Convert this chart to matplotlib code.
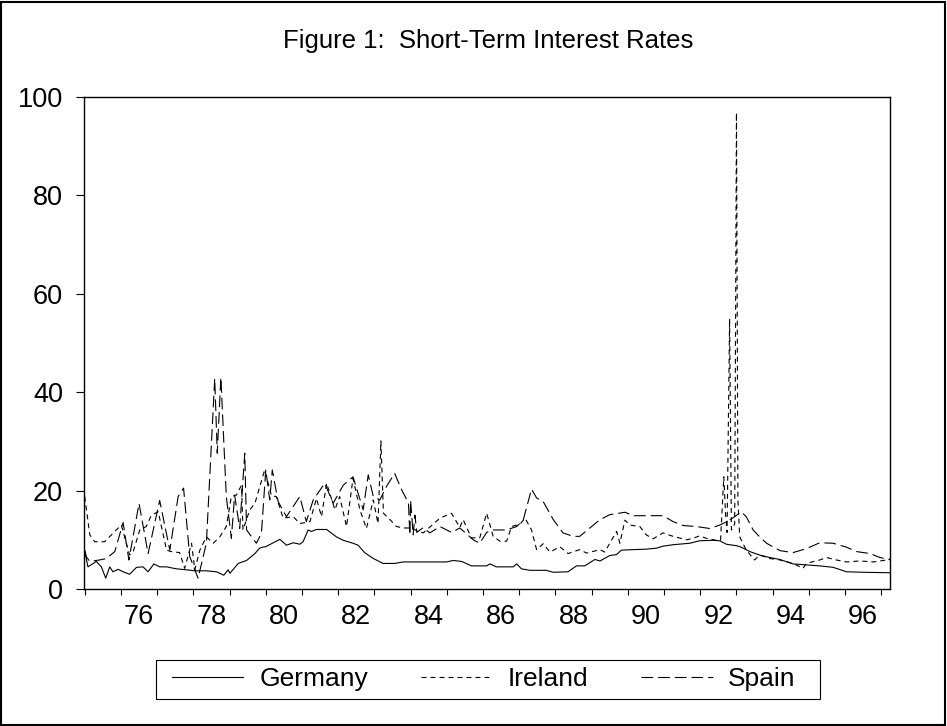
import matplotlib
matplotlib.use("Agg")
import matplotlib.pyplot as plt
from matplotlib.patches import Rectangle

plt.rcParams['font.family'] = ['Liberation Sans', 'DejaVu Sans']

# decimal years and rates
germany_t = [1975.00, 1975.09, 1975.32, 1975.46, 1975.58, 1975.69, 1975.78, 1975.92, 1976.06, 1976.24,
             1976.43, 1976.61, 1976.75, 1976.91, 1977.07, 1977.26, 1977.53, 1977.81, 1978.04, 1978.36,
             1978.64, 1978.84, 1978.96, 1979.01, 1979.24, 1979.47, 1979.70, 1979.83, 1979.91, 1980.00,
             1980.39, 1980.57, 1980.76, 1980.94, 1981.03, 1981.17, 1981.26, 1981.40, 1981.68, 1981.95,
             1982.14, 1982.41, 1982.55, 1982.73, 1982.97, 1983.24, 1983.56, 1983.80, 1984.99, 1985.18,
             1985.41, 1985.68, 1986.10, 1986.19, 1986.37, 1986.83, 1986.93, 1987.06, 1987.29, 1987.75,
             1987.94, 1988.35, 1988.58, 1988.81, 1989.09, 1989.23, 1989.50, 1989.69, 1989.82, 1990.15,
             1990.51, 1990.79, 1990.97, 1991.25, 1991.71, 1991.98, 1992.35, 1992.54, 1992.72, 1993.00,
             1993.13, 1993.37, 1993.64, 1993.92, 1994.20, 1994.56, 1994.93, 1995.30, 1995.67, 1996.04,
             1996.50, 1997.27]
germany = [7.6, 4.5, 5.6, 4.5, 2.2, 4.5, 3.5, 4.0, 3.5, 3.0,
           4.4, 4.5, 3.5, 5.1, 4.5, 4.5, 4.1, 3.9, 3.7, 3.7,
           3.5, 2.8, 3.9, 3.2, 5.2, 5.8, 7.2, 8.3, 8.5, 8.6,
           10.1, 8.9, 9.4, 9.1, 9.6, 12.0, 11.7, 12.1, 12.1, 10.6,
           9.9, 9.3, 8.9, 7.4, 6.2, 5.2, 5.2, 5.5, 5.5, 5.8,
           5.6, 4.7, 4.7, 5.1, 4.5, 4.5, 5.1, 4.1, 3.8, 3.8,
           3.4, 3.5, 4.7, 4.7, 6.0, 5.7, 6.8, 7.0, 7.9, 8.0,
           8.1, 8.3, 8.7, 9.0, 9.3, 9.8, 9.9, 9.8, 9.1, 8.8,
           8.5, 7.6, 6.9, 6.4, 6.0, 5.1, 4.9, 4.7, 4.4, 3.5,
           3.4, 3.3]

ireland_t = [1975.00, 1975.14, 1975.28, 1975.55, 1975.83, 1976.01, 1976.24, 1976.34, 1976.52, 1976.70,
             1976.84, 1977.03, 1977.26, 1977.39, 1977.62, 1977.76, 1977.95, 1978.04, 1978.18, 1978.36,
             1978.55, 1978.73, 1978.91, 1979.05, 1979.19, 1979.33, 1979.37, 1979.56, 1979.70, 1979.97,
             1980.16, 1980.29, 1980.48, 1980.76, 1980.94, 1981.22, 1981.40, 1981.54, 1981.68, 1981.91,
             1982.04, 1982.23, 1982.41, 1982.60, 1982.78, 1982.97, 1983.10, 1983.18, 1983.25, 1983.43,
             1983.61, 1983.80, 1983.98, 1984.35, 1984.81, 1985.13, 1985.36, 1985.45, 1985.68, 1985.91,
             1986.10, 1986.28, 1986.47, 1986.65, 1986.79, 1987.02, 1987.16, 1987.34, 1987.48, 1987.66,
             1987.85, 1988.12, 1988.35, 1988.67, 1988.86, 1989.23, 1989.36, 1989.50, 1989.69, 1989.78,
             1989.92, 1990.05, 1990.33, 1990.51, 1990.70, 1990.97, 1991.25, 1991.62, 1991.80, 1991.98,
             1992.17, 1992.44, 1992.56, 1992.65, 1992.70, 1992.74, 1992.81, 1992.86, 1992.90, 1992.95,
             1993.00, 1993.04, 1993.09, 1993.27, 1993.50, 1993.64, 1993.92, 1994.20, 1994.56, 1994.84,
             1994.93, 1995.30, 1995.49, 1995.76, 1996.04, 1996.41, 1996.78, 1997.15, 1997.27]
ireland = [18.8, 11.0, 9.6, 9.6, 11.7, 13.0, 6.9, 7.6, 12.0, 12.7,
           15.0, 15.7, 7.9, 7.6, 7.4, 4.2, 9.3, 3.9, 7.9, 10.6,
           9.3, 10.6, 12.7, 18.8, 19.1, 21.1, 12.0, 16.1, 17.4, 24.2,
           18.9, 18.8, 14.4, 14.7, 13.3, 13.7, 18.4, 14.7, 21.5, 16.1,
           18.8, 12.7, 22.5, 16.1, 12.3, 18.1, 13.3, 30.1, 15.4, 14.1,
           12.7, 12.4, 12.4, 11.4, 14.4, 15.4, 12.5, 14.1, 10.4, 10.4,
           15.4, 10.7, 9.7, 9.7, 12.7, 13.2, 14.4, 12.0, 8.0, 9.2,
           7.5, 8.6, 7.2, 8.0, 7.3, 8.0, 7.5, 9.3, 11.7, 9.3,
           14.0, 13.0, 12.7, 11.0, 10.2, 11.4, 10.7, 10.0, 10.3, 10.8,
           10.3, 9.9, 9.9, 22.8, 15.0, 11.5, 54.9, 12.0, 12.3, 13.3,
           96.8, 18.0, 10.6, 7.9, 5.9, 6.9, 6.2, 5.9, 5.2, 4.2,
           5.2, 5.9, 6.4, 5.9, 5.5, 5.7, 5.5, 5.9, 6.2]

spain_t = [1975.00, 1975.05, 1975.14, 1975.41, 1975.60, 1975.83, 1976.06, 1976.22, 1976.50, 1976.75,
           1977.07, 1977.35, 1977.58, 1977.73, 1977.90, 1978.13, 1978.36, 1978.59, 1978.66, 1978.76,
           1978.91, 1979.05, 1979.14, 1979.28, 1979.42, 1979.47, 1979.74, 1979.88, 1980.00, 1980.11,
           1980.18, 1980.34, 1980.57, 1980.94, 1981.12, 1981.31, 1981.63, 1981.86, 1982.14, 1982.41,
           1982.69, 1982.83, 1982.97, 1983.15, 1983.33, 1983.56, 1983.75, 1983.94, 1983.98, 1984.00,
           1984.07, 1984.12, 1984.17, 1984.35, 1984.53, 1984.81, 1985.13, 1985.36, 1985.73, 1985.91,
           1986.10, 1986.28, 1986.65, 1986.93, 1987.11, 1987.34, 1987.48, 1987.66, 1987.94, 1988.21,
           1988.49, 1988.67, 1988.95, 1989.23, 1989.50, 1989.92, 1990.15, 1990.51, 1990.97, 1991.25,
           1991.53, 1991.89, 1992.26, 1992.54, 1992.81, 1992.95, 1993.13, 1993.27, 1993.46, 1993.64,
           1993.83, 1994.20, 1994.56, 1994.93, 1995.30, 1995.67, 1996.04, 1996.32, 1996.69, 1996.96,
           1997.27]
spain = [7.9, 6.5, 5.6, 5.9, 6.2, 7.6, 13.5, 5.9, 17.4, 7.2,
         18.0, 7.9, 18.8, 20.5, 6.6, 2.2, 9.3, 42.8, 27.6, 43.0,
         18.8, 10.3, 19.1, 12.3, 27.6, 12.0, 9.3, 11.3, 24.2, 18.1,
         24.2, 17.8, 14.7, 18.8, 13.7, 18.1, 21.5, 17.4, 21.1, 22.8,
         16.1, 23.2, 18.8, 18.1, 20.8, 23.5, 20.2, 17.5, 11.0, 18.0,
         11.0, 15.0, 11.5, 12.5, 11.4, 12.7, 11.5, 12.4, 10.0, 9.3,
         11.5, 12.0, 12.0, 12.7, 14.0, 20.3, 18.5, 17.8, 14.1, 11.4,
         10.7, 10.7, 12.4, 14.1, 15.1, 15.6, 14.9, 14.9, 14.9, 13.7,
         12.9, 12.7, 12.3, 13.0, 14.0, 14.7, 15.7, 14.7, 12.0, 10.6,
         9.3, 7.8, 7.4, 8.2, 9.4, 9.3, 8.5, 7.6, 7.2, 6.4,
         5.9]

year_ticks = list(range(1975, 1998))
label_years = list(range(1976, 1997, 2))
labels = ['76', '78', '80', '82', '84', '86', '88', '90', '92', '94', '96']
y_ticks = [0, 20, 40, 60, 80, 100]

W, H = 947, 726
fig = plt.figure(figsize=(W / 100, H / 100), dpi=100)
ax = fig.add_axes([84 / W, 1 - 589 / H, 806 / W, 492 / H])

lw = 0.8
ax.plot(germany_t, germany, color='black', lw=lw, label='Germany')
ax.plot(ireland_t, ireland, color='black', lw=lw, dashes=(4.5, 3.6), label='Ireland')
ax.plot(spain_t, spain, color='black', lw=lw, dashes=(10.5, 4.5), label='Spain')

ax.set_xlim(1974.98, 1997.24)
ax.set_ylim(0, 100)

ax.set_xticks(year_ticks)
ax.set_xticklabels([])
ax.set_xticks([y + 0.5 for y in label_years], minor=True)
ax.set_xticklabels(labels, minor=True, fontsize=19.5)
ax.tick_params(axis='x', which='major', direction='out', length=4, width=0.8)
ax.tick_params(axis='x', which='minor', length=0, pad=11)
ax.set_yticks(y_ticks)
ax.set_yticklabels([str(v) for v in y_ticks], fontsize=19.5)
ax.tick_params(axis='y', direction='out', length=6, width=0.8, pad=9)
for s in ax.spines.values():
    s.set_linewidth(1.0)

fig.text(488 / W, 1 - 41 / H, 'Figure 1:  Short-Term Interest Rates',
         ha='center', va='center', fontsize=18.5)

# legend entries without frame; the box is drawn separately
fig.legend(loc='center', bbox_to_anchor=(484 / W, 1 - 679 / H), ncol=3,
           fontsize=19, frameon=False, handlelength=2.7, handletextpad=0.6,
           columnspacing=2.0, borderpad=0.15)
fig.patches.append(Rectangle((156 / W, 1 - 699 / H), 664 / W, 39 / H,
                             transform=fig.transFigure, fill=False,
                             edgecolor='black', linewidth=0.8))

fig.patches.append(Rectangle((0.001, 0.002), 0.997, 0.995, transform=fig.transFigure,
                             fill=False, edgecolor='black', linewidth=1.5))

fig.savefig('out.png', dpi=100)
